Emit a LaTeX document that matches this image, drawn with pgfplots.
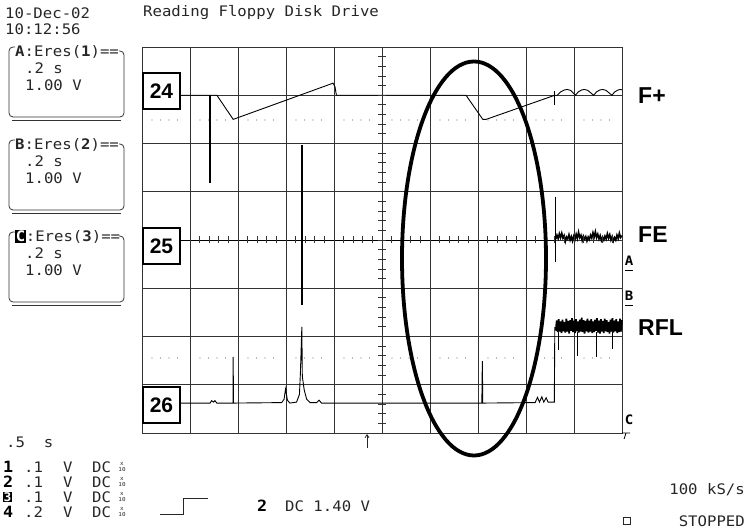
\documentclass[border=0pt]{standalone}
\usepackage{pgfplots}
\pgfplotsset{compat=1.18}
\usepackage{fontspec}
\setmainfont{Liberation Sans}
\newfontfamily\osc[FakeStretch=1.08]{DejaVu Sans Mono}
\usetikzlibrary{arrows.meta}
\pgfplotsset{tr/.style={black, line width=0.9pt, mark=none},
  spk/.style={black, line width=2pt, mark=none}}
\tikzset{st/.style={font=\osc\fontsize{14.5}{14.5}\selectfont, inner sep=0pt, anchor=west, text=black!85},
  sm/.style={font=\osc\fontsize{5.5}{6.8}\selectfont, inner sep=0pt, text=black!85, align=center},
  bd/.style={font=\osc\bfseries\fontsize{15.5}{15.5}\selectfont, inner sep=0pt, anchor=west},
  mk/.style={font=\osc\bfseries\fontsize{13}{13}\selectfont, inner sep=0pt},
  lbl/.style={font=\bfseries\fontsize{23}{23}\selectfont, inner sep=0pt, anchor=west},
  bx/.style={draw, line width=1.5pt, fill=white, minimum width=37pt, minimum height=36pt, inner sep=0pt, font=\bfseries\fontsize{21}{21}\selectfont}}
\begin{document}
\begin{tikzpicture}
\path[use as bounding box] (0pt,0pt) rectangle (747pt,532pt);
\begin{axis}[at={(142pt,99pt)}, anchor=south west, scale only axis,
  width=480pt, height=386pt, xmin=0, xmax=10, ymin=0, ymax=8,
  xtick={1,...,9}, ytick={1,...,7}, xticklabels={}, yticklabels={},
  tick style={draw=none}, grid=major,
  grid style={black!80, line width=0.9pt},
  axis line style={black!80, line width=0.9pt}, clip=false]
% trace 24 (F+)
\addplot[tr] coordinates {(0.79,7.0)(1.56,7.0)(1.90,6.5)(3.98,7.25)(4.02,7.18)(4.05,7.0)(6.75,7.0)(7.10,6.5)(7.17,6.5)(8.6,7.0)(8.65,7.0)(8.72,7.07)(8.8,7.11)(8.86,7.12)(8.93,7.1)(8.99,7.04)(9.03,7.0)(9.09,7.07)(9.16,7.11)(9.22,7.12)(9.29,7.1)(9.36,7.04)(9.41,7.0)(9.47,7.07)(9.54,7.11)(9.6,7.12)(9.67,7.1)(9.74,7.04)(9.79,7.0)(9.85,7.07)(9.92,7.11)(9.97,7.12)(10,7.11)};
\addplot[spk] coordinates {(1.42,7.0)(1.42,5.19)};
\addplot[black, line width=1pt] coordinates {(8.6,7.09)(8.6,6.8)};
% trace 25 (FE)
\addplot[tr] coordinates {(0.79,4.0)(8.62,4.0)};
\addplot[spk] coordinates {(3.34,5.97)(3.34,2.65)};
\addplot[black, line width=1.5pt] coordinates {(8.61,4.9)(8.61,3.54)};
\addplot[black, line width=1.6pt] coordinates {(8.62,4.02)(8.645,4.10)(8.67,4.03)(8.695,4.13)(8.72,4.05)(8.745,4.14)(8.77,4.04)(8.795,4.09)(8.82,3.97)(8.845,4.06)(8.87,4.02)(8.895,4.11)(8.92,4.00)(8.945,4.07)(8.97,3.98)(8.995,4.08)(9.02,4.01)(9.045,4.12)(9.07,4.03)(9.095,4.16)(9.12,4.05)(9.145,4.10)(9.17,3.99)(9.195,4.08)(9.22,4.02)(9.245,4.07)(9.27,3.98)(9.295,4.06)(9.32,4.01)(9.345,4.10)(9.37,4.04)(9.395,4.15)(9.42,4.06)(9.445,4.17)(9.47,4.05)(9.495,4.12)(9.52,4.02)(9.545,4.09)(9.57,3.99)(9.595,4.06)(9.62,4.00)(9.645,4.08)(9.67,4.02)(9.695,4.13)(9.72,4.04)(9.745,4.11)(9.77,4.00)(9.795,4.07)(9.82,3.98)(9.845,4.05)(9.87,4.00)(9.895,4.10)(9.92,4.03)(9.945,4.14)(9.97,4.05)(10,4.09)};
% trace 26 (RFL)
\addplot[tr] coordinates {(0.79,0.62)(1.42,0.62)(1.45,0.67)(1.49,0.64)(1.52,0.67)(1.56,0.62)(1.895,0.62)(1.9,1.58)(1.905,0.62)(2.91,0.63)(2.96,0.70)(2.99,0.91)(3.03,0.68)(3.08,0.62)(3.22,0.64)(3.28,0.80)(3.30,1.24)(3.33,2.20)(3.34,1.17)(3.38,0.89)(3.43,0.70)(3.5,0.63)(3.64,0.63)(3.69,0.68)(3.74,0.62)(7.08,0.62)(7.09,1.49)(7.10,0.62)(8.19,0.63)(8.24,0.74)(8.28,0.64)(8.33,0.75)(8.37,0.64)(8.42,0.73)(8.46,0.64)(8.59,0.64)(8.6,2.2)};
\addplot[black, line width=1.7pt] coordinates {(8.62,2.12)(8.64,2.33)(8.66,2.09)(8.68,2.36)(8.70,2.10)(8.72,2.31)(8.74,2.07)(8.76,2.35)(8.78,2.11)(8.80,2.30)(8.82,2.08)(8.84,2.37)(8.86,2.10)(8.88,2.32)(8.90,2.06)(8.92,2.34)(8.94,2.12)(8.96,2.38)(8.98,2.09)(9.00,2.33)(9.02,2.07)(9.04,2.36)(9.06,2.11)(9.08,2.31)(9.10,2.08)(9.12,2.35)(9.14,2.10)(9.16,2.39)(9.18,2.09)(9.20,2.34)(9.22,2.06)(9.24,2.32)(9.26,2.11)(9.28,2.37)(9.30,2.08)(9.32,2.33)(9.34,2.10)(9.36,2.36)(9.38,2.07)(9.40,2.31)(9.42,2.09)(9.44,2.35)(9.46,2.12)(9.48,2.38)(9.50,2.08)(9.52,2.33)(9.54,2.06)(9.56,2.36)(9.58,2.10)(9.60,2.32)(9.62,2.07)(9.64,2.37)(9.66,2.11)(9.68,2.34)(9.70,2.09)(9.72,2.30)(9.74,2.06)(9.76,2.35)(9.78,2.10)(9.80,2.38)(9.82,2.08)(9.84,2.33)(9.86,2.11)(9.88,2.36)(9.90,2.07)(9.92,2.31)(9.94,2.09)(9.96,2.37)(9.98,2.10)(10.00,2.34)};
\addplot[black, line width=0.9pt] coordinates {(8.67,2.1)(8.67,1.72)};
\addplot[black, line width=0.9pt] coordinates {(9.08,2.1)(9.08,1.60)};
\addplot[black, line width=0.9pt] coordinates {(9.46,2.1)(9.46,1.58)};
\addplot[black, line width=0.9pt] coordinates {(9.81,2.1)(9.81,1.74)};
\end{axis}
\begin{scope}[x=1pt, y=-1pt, yshift=532pt]
% graticule details
\foreach \i in {1,...,39} {\draw[black!80, line width=0.8pt] (378,47+\i*9.65) -- (386,47+\i*9.65);}
\foreach \i in {1,...,49} {\draw[black!80, line width=0.8pt] (142+\i*9.6,236.5) -- (142+\i*9.6,243);}
\foreach \d in {0,...,9} {\foreach \k in {0,...,3} {
  \fill[black!55] (152+\d*48+\k*8.5,120) circle (0.7pt);
  \fill[black!55] (152+\d*48+\k*8.5,358) circle (0.7pt);}}
% channel number boxes
\node[bx] at (161.5,91) {24};
\node[bx] at (161.5,246) {25};
\node[bx] at (161.5,405) {26};
% ellipse annotation
\draw[line width=3.8pt] (474,258.5) ellipse [x radius=72pt, y radius=197pt];
% labels
\node[lbl] at (638,96) {F+};
\node[lbl] at (638,235) {FE};
\node[lbl] at (638,328) {RFL};
% right channel markers
\node[mk] at (629,261) {A};
\draw[line width=0.8pt] (625,270) -- (633,270);
\node[mk] at (629,296) {B};
\draw[line width=0.8pt] (625,305) -- (633,305);
\node[mk] at (629,420) {C};
\draw[line width=0.8pt] (622,433) -- (630,433) (626,433) -- (624,439);
% header text
\node[st] at (5,13) {10-Dec-02};
\node[st] at (5,29) {10:12:56};
\node[st] at (143,13) {Reading Floppy Disk Drive};
% left info boxes
\foreach \y/\L/\n in {52/A/1,145/B/2} {
  \node[st] at (15,\y) {\textbf{\L}:Eres(\textbf{\n})==};
  \node[st] at (25,\y+16.5) {.2 s};
  \node[st] at (25,\y+33) {1.00 V};
  \draw[black!80, line width=0.8pt, rounded corners=4pt] (15,\y-5) -- (9,\y-5) -- (9,\y+65) -- (124,\y+65) -- (124,\y-1) -- (119,\y-1);
  \draw[black!80, line width=0.8pt] (12,\y+68) -- (121,\y+68);
}
\node[st] at (15,237) {{\setlength\fboxsep{0.6pt}\colorbox{black}{\textcolor{white}{\textbf{C}}}}:Eres(\textbf{3})==};
\node[st] at (25,253.5) {.2 s};
\node[st] at (25,270) {1.00 V};
\draw[black!80, line width=0.8pt, rounded corners=4pt] (15,232) -- (9,232) -- (9,302) -- (124,302) -- (124,236) -- (119,236);
\draw[black!80, line width=0.8pt] (12,305) -- (121,305);
% bottom left
\node[st] at (6,442) {.5~~s};
\foreach \y/\n/\v in {467/1/.1,482/2/.1,512/4/.2} {
  \node[bd] at (3,\y) {\n};
  \node[st] at (24,\y) {\v};
  \node[st] at (63,\y) {V};
  \node[st] at (92,\y) {DC};
  \node[sm] at (122,\y) {x\\10};
}
\node[anchor=west, inner sep=0pt] at (3,497) {\setlength\fboxsep{0.5pt}\colorbox{black}{\textcolor{white}{\osc\bfseries\fontsize{12}{12}\selectfont 3}}};
\node[st] at (24,497) {.1};
\node[st] at (63,497) {V};
\node[st] at (92,497) {DC};
\node[sm] at (122,497) {x\\10};
% trigger
\draw[black!85, line width=0.9pt] (160,514) -- (183,514) -- (183,498) -- (208,498);
\node[bd] at (257,506) {2};
\node[st] at (285,506) {DC 1.40 V};
\draw[black!85, line width=0.8pt, -{Straight Barb[length=3pt,width=4pt]}] (367,448) -- (367,434);
% bottom right
\node[st, anchor=east] at (745,490) {100 kS/s};
\draw[black!85, line width=0.8pt] (623,517) rectangle (630,524);
\node[st, anchor=east] at (745,521) {STOPPED};
\end{scope}
\end{tikzpicture}
\end{document}
